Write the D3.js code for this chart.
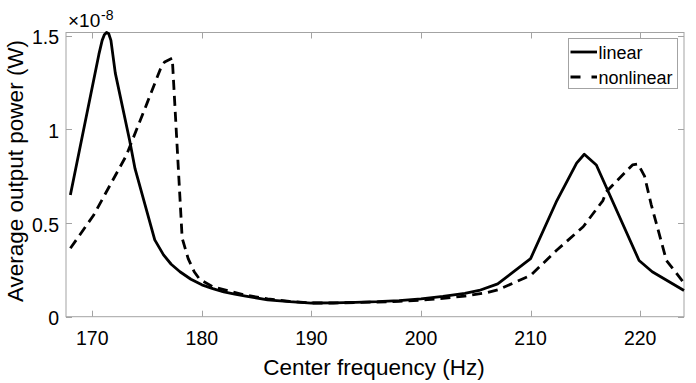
<!DOCTYPE html>
<html><head><meta charset="utf-8">
<script src="https://cdn.jsdelivr.net/npm/d3@7"></script>
<style>
html,body{margin:0;padding:0;background:#fff;}
text{font-family:"Liberation Sans",Arial,Helvetica,sans-serif;fill:#000;}
</style></head>
<body><svg id="c" width="696" height="383"></svg>
<script>
// ---- data (values in units of 1e-8 W) ----
const linearFreq = [168,170.6,170.9,171.1,171.3,171.5,171.7,172.1,173.4,173.9,175.7,176.5,177.2,178,179,180,181,182,183,184,186,188,190,192,194,196,198,200,202,204,205.3,207,210,212.4,214.2,214.9,216,219.9,221.1,224];
const linearPower = [0.65,1.40,1.475,1.505,1.517,1.51,1.475,1.30,0.943,0.79,0.41,0.33,0.28,0.24,0.20,0.17,0.15,0.132,0.12,0.11,0.09,0.08,0.073,0.074,0.077,0.08,0.086,0.095,0.108,0.124,0.14,0.175,0.31,0.62,0.82,0.867,0.81,0.30,0.24,0.14];
const nonlinFreq = [168,170.1,173.1,175.0,176.2,176.6,177.3,178.2,178.75,179.3,179.8,181,182.5,184,186,188,190,192,194,196,198,200,202,204,206,207,210,212.4,214.8,216.6,216.9,219.3,219.8,220.4,221,222.4,224];
const nonlinPower = [0.365,0.54,0.86,1.14,1.32,1.36,1.38,0.42,0.31,0.24,0.20,0.16,0.137,0.115,0.095,0.082,0.073,0.073,0.076,0.078,0.082,0.088,0.098,0.11,0.128,0.143,0.22,0.356,0.48,0.62,0.667,0.81,0.815,0.75,0.60,0.30,0.18];
const xTicks = [170,180,190,200,210,220];
const yTicks = [0,0.5,1,1.5];
const yTickLabels = ["0","0.5","1","1.5"];
const seriesNames = ["linear","nonlinear"];

const svg = d3.select("#c");
const L=66, R=684, T=32.5, B=316.7;
const x = d3.scaleLinear().domain([167.6,224]).range([L,R]);
const y = d3.scaleLinear().domain([0,1.517]).range([B,T]);
const axisCol = "#a3a3a3";

// box
svg.append("rect").attr("x",L).attr("y",T).attr("width",R-L).attr("height",B-T)
  .attr("fill","none").attr("stroke",axisCol).attr("stroke-width",1);

const g = svg.append("g");
xTicks.forEach(t=>{
  const px = Math.round(x(t))+0.5;
  g.append("line").attr("x1",px).attr("x2",px).attr("y1",B).attr("y2",B-6).attr("stroke",axisCol);
  g.append("line").attr("x1",px).attr("x2",px).attr("y1",T).attr("y2",T+6).attr("stroke",axisCol);
  g.append("text").attr("x",x(t)).attr("y",345).attr("text-anchor","middle")
    .attr("font-size",19.5).text(t);
});
yTicks.forEach((t,i)=>{
  const py = Math.round(y(t))+0.5;
  g.append("line").attr("x1",L).attr("x2",L+6).attr("y1",py).attr("y2",py).attr("stroke",axisCol);
  g.append("line").attr("x1",R).attr("x2",R-6).attr("y1",py).attr("y2",py).attr("stroke",axisCol);
  g.append("text").attr("x",59).attr("y",y(t)+8.5).attr("text-anchor","end")
    .attr("font-size",19.5).text(yTickLabels[i]);
});

// exponent
svg.append("text").attr("x",68).attr("y",27).attr("font-size",19).text("\u00d710");
svg.append("text").attr("x",101).attr("y",20).attr("font-size",14).text("-8");

// axis labels
svg.append("text").attr("x",374).attr("y",375).attr("text-anchor","middle")
  .attr("font-size",22.5).text("Center frequency (Hz)");
svg.append("text").attr("transform",`translate(23,171) rotate(-90)`)
  .attr("text-anchor","middle").attr("font-size",22.5).text("Average output power (W)");

// lines
const line = d3.line().x(d=>x(d[0])).y(d=>y(d[1])).curve(d3.curveLinear);
const linData = linearFreq.map((f,i)=>[f,linearPower[i]]);
const nonData = nonlinFreq.map((f,i)=>[f,nonlinPower[i]]);
svg.append("path").attr("d",line(nonData)).attr("fill","none").attr("stroke","#000")
  .attr("stroke-width",2.8).attr("stroke-dasharray","10,6").attr("stroke-linejoin","round");
svg.append("path").attr("d",line(linData)).attr("fill","none").attr("stroke","#000")
  .attr("stroke-width",2.8).attr("stroke-linejoin","round");

// legend
const lg = svg.append("g");
lg.append("rect").attr("x",568.5).attr("y",38.5).attr("width",109).attr("height",50)
  .attr("fill","#fff").attr("stroke",axisCol);
lg.append("line").attr("x1",570.5).attr("x2",597).attr("y1",52).attr("y2",52)
  .attr("stroke","#000").attr("stroke-width",2.8);
lg.append("line").attr("x1",570.5).attr("x2",597).attr("y1",77).attr("y2",77)
  .attr("stroke","#000").attr("stroke-width",2.8).attr("stroke-dasharray","10,11");
lg.append("text").attr("x",598.5).attr("y",58.5).attr("font-size",18).text(seriesNames[0]);
lg.append("text").attr("x",598.5).attr("y",83.5).attr("font-size",18).text(seriesNames[1]);
</script></body></html>
